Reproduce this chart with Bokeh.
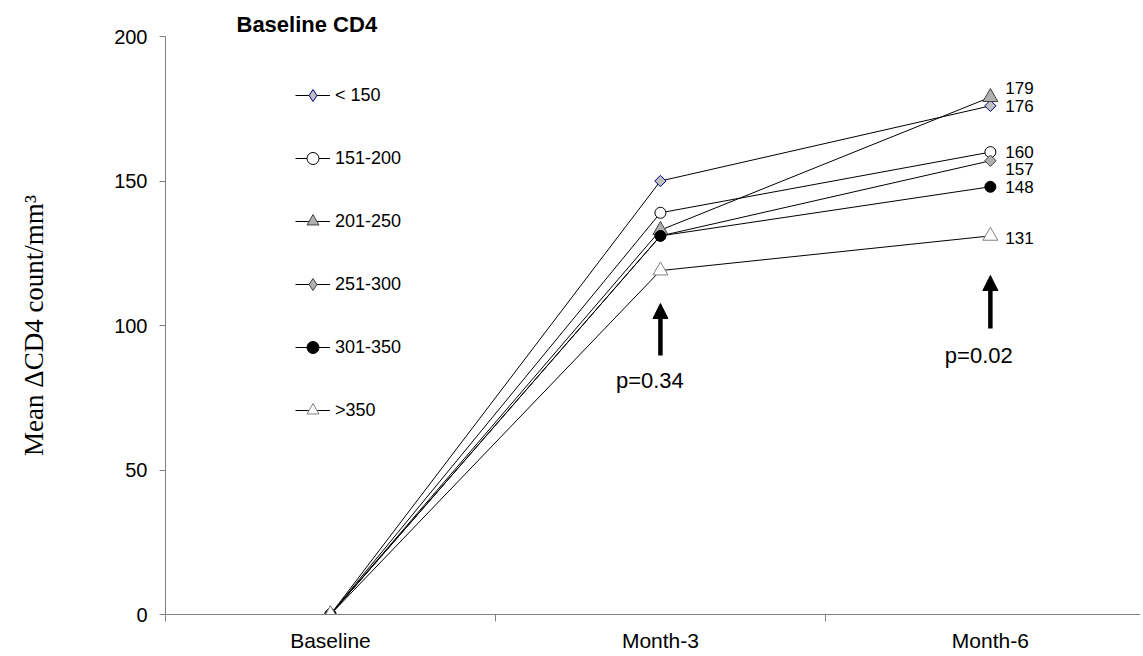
from bokeh.plotting import figure
from bokeh.models import (FixedTicker, Legend, LegendItem, Label, Arrow, NormalHead, Range1d)
from bokeh.embed import file_html
from bokeh.resources import INLINE
from bokeh.core.properties import value
import math

# ---------------- data ----------------
timepoints = ["Baseline", "Month-3", "Month-6"]
groups = ["< 150", "151-200", "201-250", "251-300", "301-350", ">350"]
cd4_lt150 = [0, 150, 176]
cd4_151_200 = [0, 139, 160]
cd4_201_250 = [0, 133, 179]
cd4_251_300 = [0, 131, 157]
cd4_301_350 = [0, 131, 148]
cd4_gt350 = [0, 119, 131]
y_ticks = [0, 50, 100, 150, 200]
p_labels = ["p=0.34", "p=0.02"]

series = [cd4_lt150, cd4_151_200, cd4_201_250, cd4_251_300, cd4_301_350, cd4_gt350]

# ---------------- styles ----------------
styles = [
    dict(marker="square", size=8, angle=math.pi / 4, fill_color="#c0c0c0", line_color="#000080", legend_marker="diamond"),
    dict(marker="circle", size=11, angle=0, fill_color="white", line_color="black", legend_marker=None),
    dict(marker="triangle", size=15, angle=0, fill_color="#b0b0b0", line_color="#404040", legend_marker=None),
    dict(marker="square", size=8, angle=math.pi / 4, fill_color="#b0b0b0", line_color="#404040", legend_marker="diamond"),
    dict(marker="circle", size=11, angle=0, fill_color="black", line_color="black", legend_marker=None),
    dict(marker="triangle", size=15, angle=0, fill_color="white", line_color="#808080", legend_marker=None),
]
end_label_offsets = [0, 0, -9, 8, 0, 2]

FONT = "Liberation Sans"
AXIS_COLOR = "#808080"

xs = [i + 0.5 for i in range(len(timepoints))]

p = figure(width=1140, height=654, output_backend="svg", toolbar_location=None,
           x_range=Range1d(0, 2.955), y_range=Range1d(0, 200),
           min_border_left=165, min_border_top=36, min_border_bottom=40, min_border_right=0)
p.outline_line_color = None
p.xgrid.grid_line_color = None
p.ygrid.grid_line_color = None
p.background_fill_color = "white"

p.title.text = "Baseline CD4"
p.title.text_font = FONT
p.title.text_font_size = "22px"
p.title.text_font_style = "bold"
p.title.text_color = "black"
p.title.align = "left"
p.title.offset = 71
p.title.standoff = 0

# x axis
xa = p.xaxis[0]
xa.ticker = FixedTicker(ticks=xs, minor_ticks=[0, 1, 2, 3])
xa.major_label_overrides = {x: t for x, t in zip(xs, timepoints)}
xa.major_tick_line_color = None
xa.major_tick_out = 0
xa.major_tick_in = 0
xa.minor_tick_out = 7
xa.minor_tick_in = 0
xa.minor_tick_line_color = AXIS_COLOR
xa.axis_line_color = AXIS_COLOR
xa.major_label_text_font = FONT
xa.major_label_text_font_size = "21px"
xa.major_label_text_color = "black"
xa.major_label_standoff = 7

# y axis
ya = p.yaxis[0]
ya.ticker = FixedTicker(ticks=y_ticks, minor_ticks=[])
ya.major_tick_out = 6
ya.major_tick_in = 0
ya.major_tick_line_color = AXIS_COLOR
ya.minor_tick_line_color = None
ya.axis_line_color = AXIS_COLOR
ya.major_label_text_font = FONT
ya.major_label_text_font_size = "20px"
ya.major_label_text_color = "black"
ya.major_label_standoff = 12
ya.axis_label = "Mean \u0394CD4 count/mm\u00b3"
ya.axis_label_text_font = "Liberation Serif"
ya.axis_label_text_font_size = "27px"
ya.axis_label_text_font_style = "normal"
ya.axis_label_text_color = "black"
ya.axis_label_standoff = 62

items = []
for name, vals, st in zip(groups, series, styles):
    lr = p.line(xs, vals, line_color="black", line_width=1)
    lgr = None
    if st["legend_marker"]:
        # legend-shaped marker, drawn first and covered by the rotated square below
        lgr = p.scatter(xs, vals, marker=st["legend_marker"], size=st["size"],
                        fill_color=st["fill_color"], line_color=st["line_color"], line_width=1)
    sr = p.scatter(xs, vals, marker=st["marker"], size=st["size"], angle=st["angle"],
                   fill_color=st["fill_color"], line_color=st["line_color"], line_width=1)
    items.append(LegendItem(label=name, renderers=[lr, lgr if lgr is not None else sr]))

# end value labels at Month-6
p.text(x=[xs[-1]] * len(series), y=[s[-1] for s in series],
       text=[str(s[-1]) for s in series],
       x_offset=15, y_offset=end_label_offsets,
       text_font=value(FONT), text_font_size="17px", text_baseline="middle",
       text_align="left", text_color="black")

legend = Legend(items=items, location=(130, 189), orientation="vertical",
                glyph_width=35, glyph_height=30, label_height=30, spacing=33,
                padding=0, margin=0, label_standoff=5,
                label_text_font=FONT, label_text_font_size="18px", label_text_color="black",
                border_line_alpha=0, background_fill_alpha=0)
p.add_layout(legend)

# arrows and p-values
arrow_specs = [(xs[1], 89.6, 107.6, 1.468, 81.0), (xs[2], 99.0, 117.3, 2.465, 89.6)]
for (ax, y0, y1, tx, ty), lab in zip(arrow_specs, p_labels):
    p.add_layout(Arrow(end=NormalHead(size=15, fill_color="black", line_color="black"),
                       x_start=ax, y_start=y0, x_end=ax, y_end=y1,
                       line_width=4.5, line_color="black"))
    p.add_layout(Label(x=tx, y=ty, text=lab, text_font=FONT, text_font_size="22px",
                       text_align="center", text_baseline="middle", text_color="black"))

open("out.html", "w").write(file_html(p, INLINE))
